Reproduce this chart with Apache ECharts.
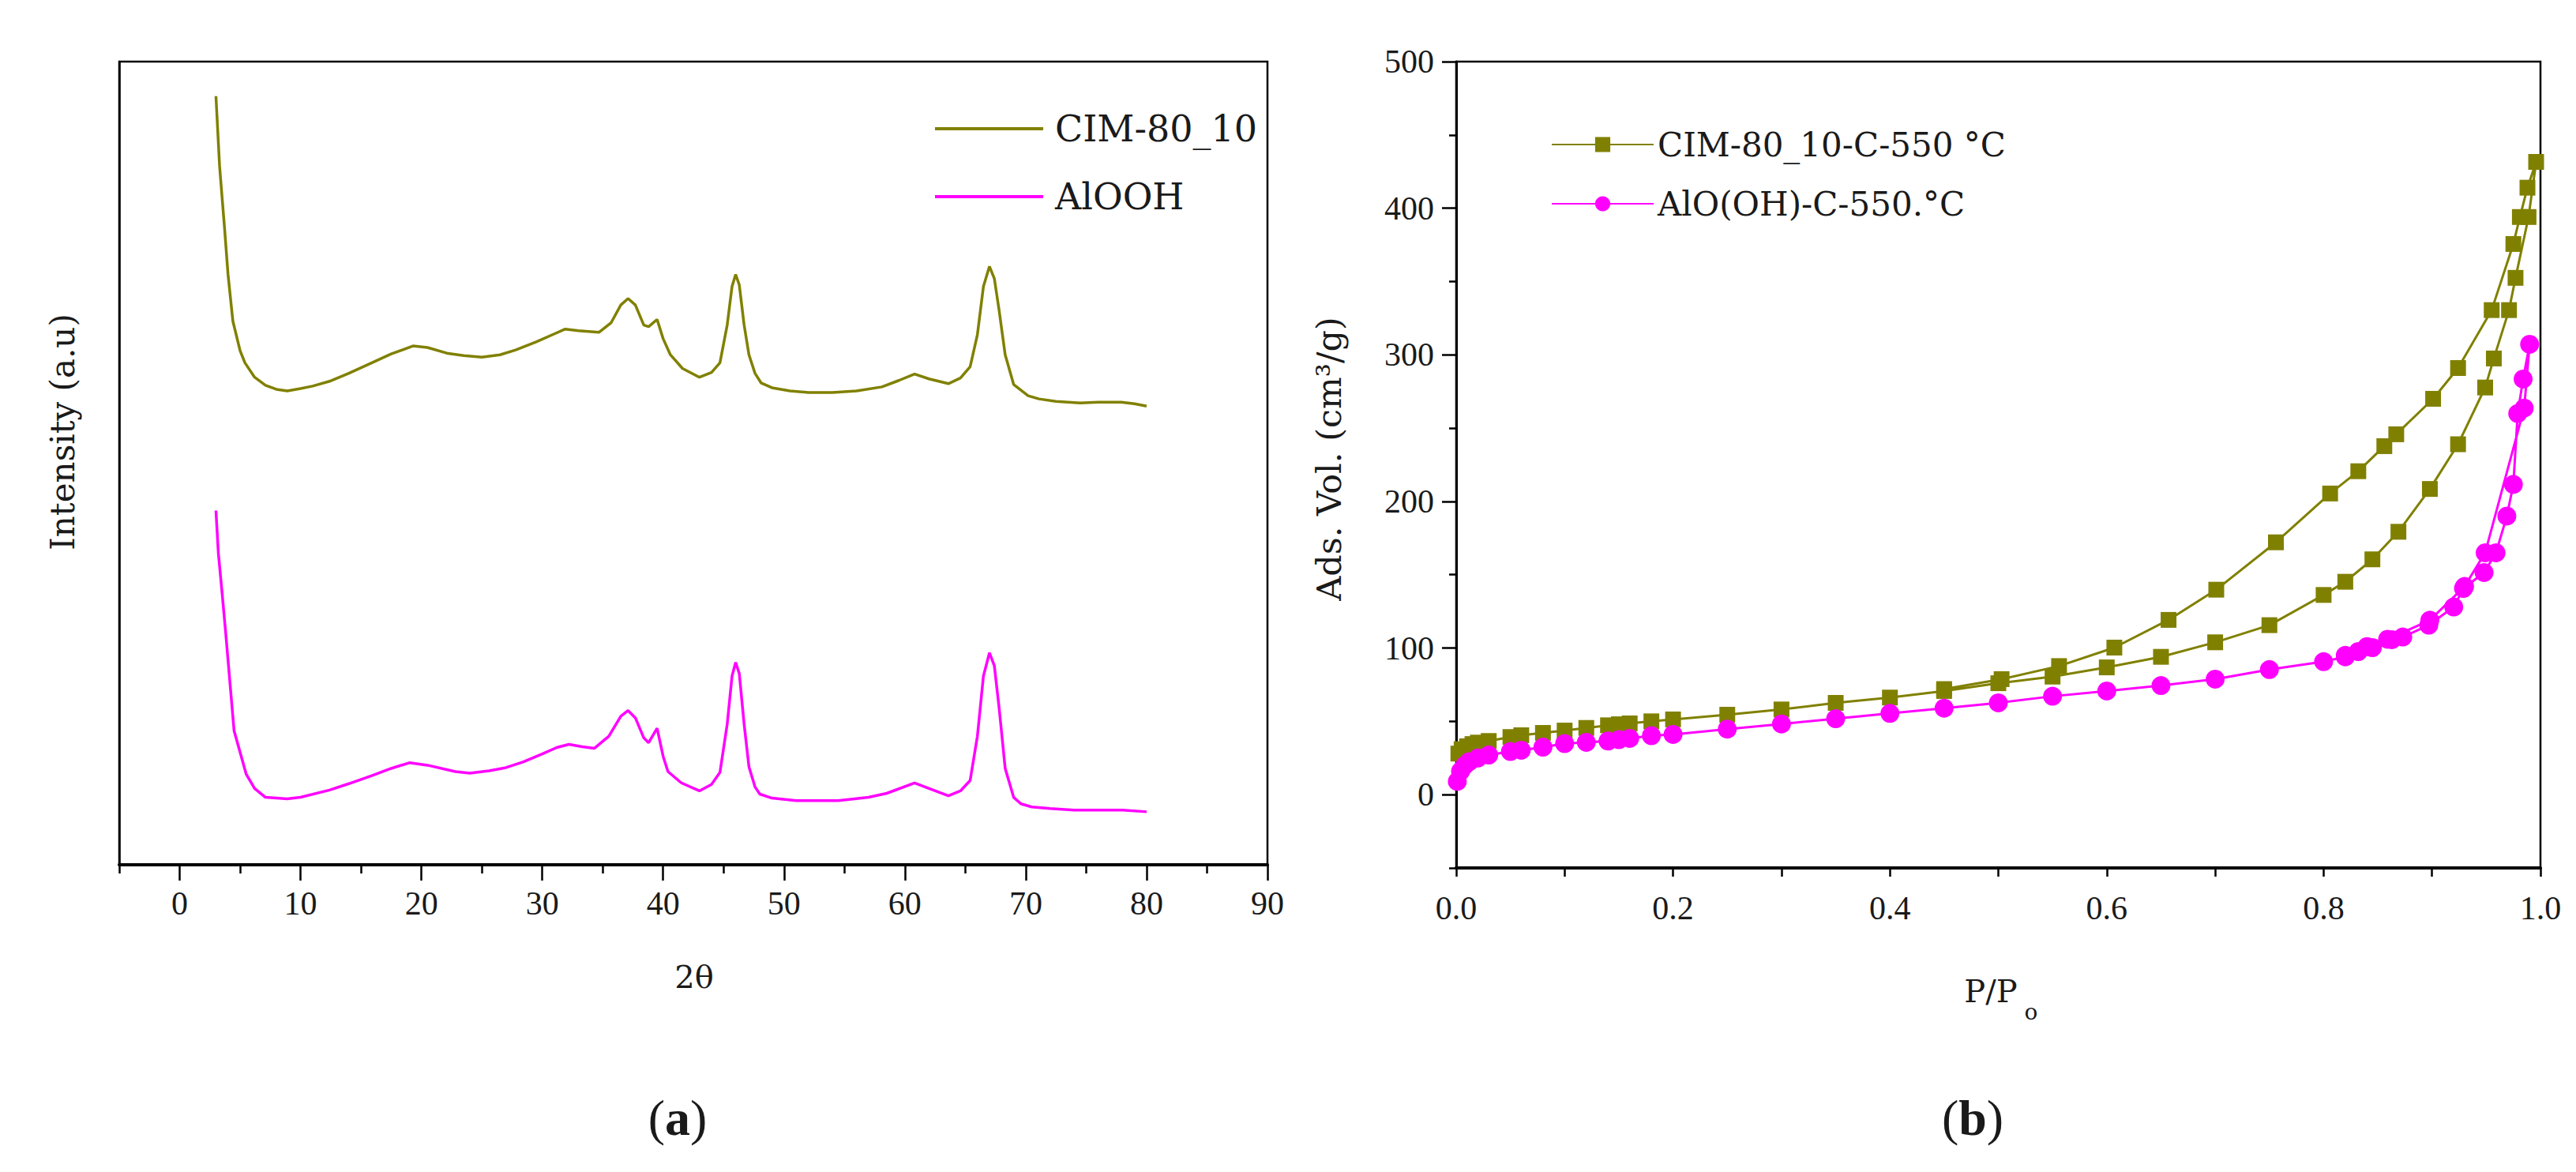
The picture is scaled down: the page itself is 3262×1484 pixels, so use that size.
<!DOCTYPE html>
<html>
<head>
<meta charset="utf-8">
<script src="https://cdn.jsdelivr.net/npm/echarts@6.0.0/dist/echarts.min.js"></script>
<style>
  html, body { margin: 0; padding: 0; background: #fff; }
  #chart { width: 3262px; height: 1484px; }
</style>
</head>
<body>
<div id="chart"></div>
<script>
// (a) XRD patterns
const cimTheta = [3.0, 3.3, 3.7, 4.0, 4.4, 5.0, 5.4, 6.2, 7.1, 8.0, 8.9, 10.0, 11.0, 12.4, 14.0, 15.9, 17.5, 19.3, 20.5, 22.1, 23.5, 25.0, 26.5, 27.8, 29.5, 31.0, 31.9, 33.0, 34.7, 35.7, 36.5, 37.1, 37.7, 38.4, 38.8, 39.5, 40.0, 40.6, 41.6, 43.0, 44.0, 44.7, 45.3, 45.7, 46.0, 46.3, 46.7, 47.1, 47.6, 48.1, 49.0, 50.5, 52.0, 54.0, 56.0, 58.1, 59.5, 60.8, 62.0, 63.6, 64.6, 65.4, 66.0, 66.5, 67.0, 67.4, 67.8, 68.3, 69.0, 70.2, 71.1, 72.5, 74.5, 76.0, 77.9, 79.0, 80.0];
const cimIntensity = [957, 870, 795, 735, 677, 640, 625, 607, 597, 592, 590, 593, 596, 602, 612, 625, 636, 646, 644, 637, 634, 632, 635, 641, 651, 661, 667, 665, 663, 675, 697, 705, 697, 672, 670, 679, 655, 635, 618, 607, 613, 625, 672, 720, 735, 722, 672, 635, 612, 600, 594, 590, 588, 588, 590, 595, 603, 611, 605, 599, 606, 620, 660, 720, 745, 730, 690, 635, 598, 584, 580, 577, 575, 576, 576, 574, 571];

const aloohTheta = [3.0, 3.2, 3.5, 3.8, 4.5, 5.5, 6.2, 7.1, 8.9, 10.0, 12.4, 14.0, 15.9, 17.5, 19.0, 20.5, 22.8, 24.0, 25.6, 27.0, 28.4, 30.0, 31.2, 32.2, 33.3, 34.3, 35.5, 36.5, 37.1, 37.7, 38.4, 38.8, 39.5, 40.0, 40.4, 41.5, 43.0, 44.0, 44.7, 45.3, 45.7, 46.0, 46.3, 46.7, 47.1, 47.6, 48.0, 49.0, 51.0, 54.5, 57.0, 58.5, 60.8, 62.0, 63.6, 64.6, 65.4, 66.0, 66.5, 67.0, 67.4, 67.8, 68.3, 69.0, 69.6, 70.5, 72.0, 74.0, 76.0, 78.0, 80.0];
const aloohIntensity = [441, 388, 340, 290, 167, 113, 95, 84, 82, 84, 93, 101, 111, 120, 127, 124, 116, 114, 117, 121, 128, 138, 146, 150, 147, 145, 160, 185, 192, 183, 158, 152, 170, 135, 116, 102, 92, 100, 115, 175, 235, 252, 238, 175, 122, 97, 88, 83, 80, 80, 84, 89, 102, 95, 86, 92, 105, 160, 235, 264, 248, 195, 120, 84, 76, 72, 70, 68, 68, 68, 66];

const xrdMajorTicks = [0, 10, 20, 30, 40, 50, 60, 70, 80, 90];
const xrdMinorTicks = [-5, 5, 15, 25, 35, 45, 55, 65, 75, 85];

// (b) N2 isotherms: adsorption then desorption branch
const cimAdsP = [0.002, 0.005, 0.01, 0.015, 0.02, 0.03, 0.05, 0.06, 0.08, 0.10, 0.12, 0.14, 0.15, 0.16, 0.18, 0.20, 0.25, 0.30, 0.35, 0.40, 0.45, 0.50, 0.55, 0.60, 0.65, 0.70, 0.75, 0.80, 0.82, 0.845, 0.869, 0.898, 0.924, 0.949, 0.957, 0.971, 0.977, 0.989, 0.996];
const cimAdsV = [28, 31, 33, 34.5, 35.5, 36.6, 39.3, 40.5, 42.1, 43.7, 45.5, 47.3, 48, 48.6, 50, 51.3, 54.5, 58.1, 62.6, 66.2, 70.7, 76, 80.5, 86.8, 94, 103.9, 115.6, 136.2, 145.2, 160.5, 179.3, 208.5, 239, 277.7, 297.5, 330.5, 352.5, 394, 431.6];
const cimDesP = [0.988, 0.981, 0.975, 0.955, 0.924, 0.901, 0.867, 0.856, 0.832, 0.806, 0.756, 0.701, 0.657, 0.607, 0.556, 0.503, 0.45];
const cimDesV = [414, 394, 375.6, 330.5, 291, 270, 245.8, 237.7, 220.6, 205.4, 172.1, 139.8, 119.2, 100.3, 87.7, 78.8, 72];

const alAdsP = [0.001, 0.004, 0.008, 0.012, 0.02, 0.03, 0.05, 0.06, 0.08, 0.10, 0.12, 0.14, 0.15, 0.16, 0.18, 0.20, 0.25, 0.30, 0.35, 0.40, 0.45, 0.50, 0.55, 0.60, 0.65, 0.70, 0.75, 0.80, 0.82, 0.832, 0.845, 0.863, 0.873, 0.897, 0.92, 0.929, 0.948, 0.959, 0.969, 0.975, 0.979, 0.984, 0.99];
const alAdsV = [9, 16, 20, 22.5, 25, 27, 29.4, 30.3, 32.4, 34.8, 35.7, 36.6, 37.5, 38.4, 40.2, 41.1, 44.7, 48.2, 51.8, 55.4, 59, 62.6, 67.1, 70.7, 74.4, 78.8, 85.3, 90.7, 94, 97.6, 100.3, 105.7, 107.5, 115.6, 128, 140.7, 151.5, 165, 190, 211.6, 260, 283.5, 307.2];
const alDesP = [0.985, 0.949, 0.93, 0.898, 0.859, 0.84, 0.82];
const alDesV = [263.7, 165, 142, 119, 106, 101, 95];

const isoMajorTicks = [0, 100, 200, 300, 400, 500];
const isoMinorTicks = [-50, 50, 150, 250, 350, 450];
const isoXLabels = [0, 0.2, 0.4, 0.6, 0.8, 1.0];

const OLIVE = '#808000';
const MAGENTA = '#ff00ff';
const TEXT = '#1a1a1a';
const SERIF = "'DejaVu Serif', serif";
const TICK_FONT = "'Liberation Serif', serif";

const zip = (xs, ys) => xs.map((x, i) => [x, ys[i]]);

const tickLabel = { color: TEXT, fontFamily: TICK_FONT, fontSize: 42 };

const chart = echarts.init(document.getElementById('chart'), null, { renderer: 'svg' });

chart.setOption({
    animation: false,
    backgroundColor: '#fff',
    grid: [
        { left: 151, top: 78, width: 1454, height: 1017, show: true, borderColor: '#000', borderWidth: 2.5 },
        { left: 1844, top: 78, width: 1373, height: 1021, show: true, borderColor: '#000', borderWidth: 2.5 }
    ],
    xAxis: [
        {
            gridIndex: 0, type: 'value', position: 'bottom', min: -5, max: 90, interval: 5,
            axisLine: { onZero: false, lineStyle: { color: '#000', width: 4 } },
            axisTick: { customValues: xrdMajorTicks, length: 20, lineStyle: { color: '#000', width: 2.5 } },
            axisLabel: { customValues: xrdMajorTicks, margin: 28, ...tickLabel },
            splitLine: { show: false }
        },
        {
            // minor ticks only
            gridIndex: 0, type: 'value', position: 'bottom', min: -5, max: 90, interval: 5,
            axisLine: { show: false, onZero: false },
            axisTick: { customValues: xrdMinorTicks, length: 11, lineStyle: { color: '#000', width: 2.5 } },
            axisLabel: { show: false },
            splitLine: { show: false }
        },
        {
            gridIndex: 1, type: 'value', position: 'bottom', min: 0, max: 1, interval: 0.1,
            axisLine: { onZero: false, lineStyle: { color: '#000', width: 4 } },
            axisTick: { length: 11, lineStyle: { color: '#000', width: 2.5 } },
            axisLabel: { customValues: isoXLabels, margin: 30, formatter: v => v.toFixed(1), ...tickLabel },
            splitLine: { show: false }
        }
    ],
    yAxis: [
        {
            gridIndex: 0, type: 'value', position: 'left', min: 0, max: 1000,
            axisLine: { show: true, onZero: false, lineStyle: { color: '#000', width: 2.5 } },
            axisTick: { show: false },
            axisLabel: { show: false },
            splitLine: { show: false }
        },
        {
            gridIndex: 1, type: 'value', position: 'left', min: -50, max: 500, interval: 50,
            axisLine: { show: true, onZero: false, lineStyle: { color: '#000', width: 3 } },
            axisTick: { customValues: isoMajorTicks, length: 18, lineStyle: { color: '#000', width: 2.5 } },
            axisLabel: { customValues: isoMajorTicks, margin: 28, ...tickLabel },
            splitLine: { show: false }
        },
        {
            // minor ticks only
            gridIndex: 1, type: 'value', position: 'left', min: -50, max: 500, interval: 50,
            axisLine: { show: false, onZero: false },
            axisTick: { customValues: isoMinorTicks, length: 9, lineStyle: { color: '#000', width: 2.5 } },
            axisLabel: { show: false },
            splitLine: { show: false }
        }
    ],
    legend: [
        {
            data: ['CIM-80_10', 'AlOOH'],
            orient: 'vertical', left: 1179, top: 130,
            icon: 'rect', itemWidth: 137, itemHeight: 4, itemGap: 30,
            textStyle: { color: TEXT, fontFamily: SERIF, fontSize: 46, lineHeight: 56, padding: [0, 0, 0, 10] }
        },
        {
            data: ['CIM-80_10-C-550 °C', 'AlO(OH)-C-550.°C'],
            orient: 'vertical', left: 1959, top: 153,
            itemWidth: 129, itemHeight: 24, itemGap: 25,
            textStyle: { color: TEXT, fontFamily: SERIF, fontSize: 42, lineHeight: 50 }
        }
    ],
    series: [
        {
            name: 'CIM-80_10', type: 'line', xAxisIndex: 0, yAxisIndex: 0,
            data: zip(cimTheta, cimIntensity),
            symbol: 'none', color: OLIVE, lineStyle: { width: 3.5 }
        },
        {
            name: 'AlOOH', type: 'line', xAxisIndex: 0, yAxisIndex: 0,
            data: zip(aloohTheta, aloohIntensity),
            symbol: 'none', color: MAGENTA, lineStyle: { width: 3.5 }
        },
        {
            name: 'CIM-80_10-C-550 °C', type: 'line', xAxisIndex: 2, yAxisIndex: 1,
            data: zip(cimAdsP, cimAdsV).concat(zip(cimDesP, cimDesV)),
            symbol: 'rect', symbolSize: 20, color: OLIVE, lineStyle: { width: 3 }
        },
        {
            name: 'AlO(OH)-C-550.°C', type: 'line', xAxisIndex: 2, yAxisIndex: 1,
            data: zip(alAdsP, alAdsV).concat(zip(alDesP, alDesV)),
            symbol: 'circle', symbolSize: 24, color: MAGENTA, lineStyle: { width: 3 }
        }
    ],
    graphic: [
        // axis titles and panel letters
        { type: 'text', x: 79, y: 547, rotation: Math.PI / 2,
          style: { text: 'Intensity (a.u)', font: '42px "DejaVu Serif"', fill: TEXT, align: 'center', verticalAlign: 'middle' } },
        { type: 'text', x: 879, y: 1237,
          style: { text: '2θ', font: '40px "DejaVu Serif"', fill: TEXT, align: 'center', verticalAlign: 'middle' } },
        { type: 'text', x: 1683, y: 581, rotation: Math.PI / 2,
          style: { text: 'Ads. Vol. (cm³/g)', font: '43px "DejaVu Serif"', fill: TEXT, align: 'center', verticalAlign: 'middle' } },
        { type: 'text', x: 2521, y: 1255,
          style: { text: 'P/P', font: '40px "DejaVu Serif"', fill: TEXT, align: 'center', verticalAlign: 'middle' } },
        { type: 'text', x: 2572, y: 1281,
          style: { text: 'o', font: '28px "DejaVu Serif"', fill: TEXT, align: 'center', verticalAlign: 'middle' } },
        { type: 'text', x: 858, y: 1415,
          style: { text: '{n|(}{b|a}{n|)}', align: 'center', verticalAlign: 'middle',
                   rich: { n: { font: '64px "Liberation Serif"', fill: TEXT }, b: { font: 'bold 64px "Liberation Serif"', fill: TEXT } } } },
        { type: 'text', x: 2498, y: 1415,
          style: { text: '{n|(}{b|b}{n|)}', align: 'center', verticalAlign: 'middle',
                   rich: { n: { font: '64px "Liberation Serif"', fill: TEXT }, b: { font: 'bold 64px "Liberation Serif"', fill: TEXT } } } }
    ]
});
</script>
</body>
</html>
